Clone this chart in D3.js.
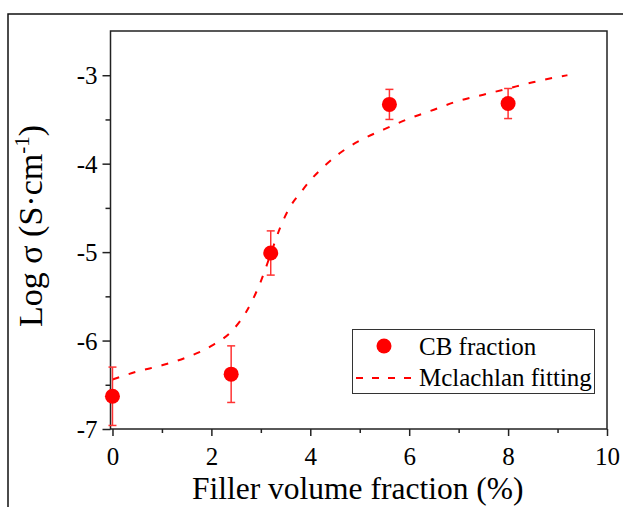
<!DOCTYPE html>
<html>
<head>
<meta charset="utf-8">
<script src="https://cdn.jsdelivr.net/npm/d3@7"></script>
<style>
html,body{margin:0;padding:0;background:#fff;}
svg{display:block;}
text{font-family:"Liberation Serif","Times New Roman",serif;fill:#000;}
</style>
</head>
<body>
<svg id="chart" width="623" height="507"></svg>
<script>
// ---- data ----
const pointX = [0, 2.4, 3.2, 5.6, 8.0];
const pointY = [-6.63, -6.38, -5.01, -3.33, -3.32];
const pointErr = [0.33, 0.32, 0.25, 0.17, 0.17];

const fitX = [0, 0.5, 1.0, 1.5, 2.0, 2.4, 2.7, 3.0, 3.2, 3.4, 3.6, 3.8, 4.0, 4.3, 4.6, 5.0, 5.5, 6.0, 6.5, 7.0, 7.5, 8.0, 8.5, 9.0, 9.2];
const fitY = [-6.44, -6.35, -6.28, -6.19, -6.06, -5.90, -5.68, -5.33, -5.02, -4.71, -4.48, -4.33, -4.19, -4.02, -3.88, -3.74, -3.61, -3.49, -3.39, -3.29, -3.22, -3.15, -3.08, -3.02, -3.00];

const xMajorTicks = [0, 2, 4, 6, 8, 10];
const xMinorTicks = [1, 3, 5, 7, 9];
const yMajorTicks = [-7, -6, -5, -4, -3];
const yMinorTicks = [-6.5, -5.5, -4.5, -3.5];

const legendLabels = ["CB fraction", "Mclachlan fitting"];
const xTitle = "Filler volume fraction (%)";

// ---- layout ----
const svg = d3.select("#chart");
const L = 110.5, R = 607, T = 31, B = 429;
const x = d3.scaleLinear().domain([-0.04, 10]).range([L, R]);
const y = d3.scaleLinear().domain([-7, -2.5]).range([B, T]);
const red = "#ff0000";
const axisColor = "#222";

// outer frame
svg.append("rect").attr("x", 8).attr("y", 14).attr("width", 700).attr("height", 600)
  .attr("fill", "none").attr("stroke", "#111").attr("stroke-width", 1.5);

// plot frame
svg.append("rect").attr("x", L).attr("y", T).attr("width", R - L).attr("height", B - T)
  .attr("fill", "none").attr("stroke", axisColor).attr("stroke-width", 1.5);

// axes
function styleAxis(g) {
  g.select(".domain").remove();
  g.selectAll("line").attr("stroke", axisColor).attr("stroke-width", 1.5);
}
const gxMinor = svg.append("g").attr("transform", `translate(0,${B})`)
  .call(d3.axisBottom(x).tickValues(xMinorTicks).tickSize(4).tickFormat(""));
styleAxis(gxMinor);
const gx = svg.append("g").attr("transform", `translate(0,${B})`)
  .call(d3.axisBottom(x).tickValues(xMajorTicks).tickSize(7).tickFormat(d3.format("d")));
styleAxis(gx);
gx.selectAll("text").attr("y", 36).attr("dy", null).attr("font-size", 25)
  .style("font-family", '"Liberation Serif", serif').attr("fill", "#000");

const gyMinor = svg.append("g").attr("transform", `translate(${L},0)`)
  .call(d3.axisLeft(y).tickValues(yMinorTicks).tickSize(5).tickFormat(""));
styleAxis(gyMinor);
const gy = svg.append("g").attr("transform", `translate(${L},0)`)
  .call(d3.axisLeft(y).tickValues(yMajorTicks).tickSize(8).tickFormat(d => "-" + Math.abs(d)));
styleAxis(gy);
gy.selectAll("text").attr("x", -13).attr("dy", "0.34em").attr("font-size", 25)
  .style("font-family", '"Liberation Serif", serif').attr("fill", "#000");

// axis titles
svg.append("text").attr("x", (L + R) / 2 - 1).attr("y", 499).attr("text-anchor", "middle")
  .attr("font-size", 31.5).text(xTitle);

const yt = svg.append("text").attr("transform", "translate(42,226) rotate(-90)")
  .attr("text-anchor", "middle").attr("font-size", 34);
yt.append("tspan").text("Log σ (S·cm");
yt.append("tspan").attr("font-size", 21).attr("dy", -13).text("-1");
yt.append("tspan").attr("dy", 13).text(")");

// fitting curve
const fitData = fitX.map((v, i) => [v, fitY[i]]);
svg.append("path").datum(fitData)
  .attr("d", d3.line().x(d => x(d[0])).y(d => y(d[1])).curve(d3.curveMonotoneX))
  .attr("fill", "none").attr("stroke", red).attr("stroke-width", 2)
  .attr("stroke-dasharray", "7,10");

// error bars
const pts = pointX.map((v, i) => ({x: v, y: pointY[i], e: pointErr[i]}));
const eb = svg.append("g").attr("stroke", "#ff3333").attr("stroke-width", 1.5);
pts.forEach(p => {
  const cx = x(p.x);
  eb.append("line").attr("x1", cx).attr("x2", cx).attr("y1", y(p.y + p.e)).attr("y2", y(p.y - p.e));
  eb.append("line").attr("x1", cx - 4).attr("x2", cx + 4).attr("y1", y(p.y + p.e)).attr("y2", y(p.y + p.e));
  eb.append("line").attr("x1", cx - 4).attr("x2", cx + 4).attr("y1", y(p.y - p.e)).attr("y2", y(p.y - p.e));
});
svg.append("g").selectAll("circle").data(pts).join("circle")
  .attr("cx", d => x(d.x)).attr("cy", d => y(d.y)).attr("r", 7.5).attr("fill", red);

// legend
const lg = svg.append("g");
lg.append("rect").attr("x", 352.5).attr("y", 329.5).attr("width", 242).attr("height", 64)
  .attr("fill", "#fff").attr("stroke", "#333").attr("stroke-width", 1);
lg.append("circle").attr("cx", 384).attr("cy", 346).attr("r", 7.5).attr("fill", red);
lg.append("line").attr("x1", 356).attr("x2", 413).attr("y1", 378).attr("y2", 378)
  .attr("stroke", red).attr("stroke-width", 2).attr("stroke-dasharray", "7,9");
lg.append("text").attr("x", 419).attr("y", 355).attr("font-size", 25).text(legendLabels[0]);
lg.append("text").attr("x", 419).attr("y", 386).attr("font-size", 25).text(legendLabels[1]);
</script>
</body>
</html>
